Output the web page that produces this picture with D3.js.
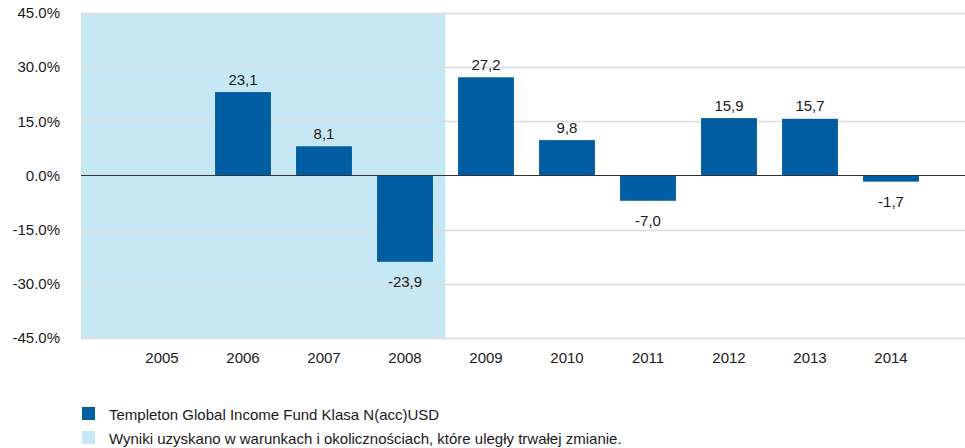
<!DOCTYPE html>
<html>
<head>
<meta charset="utf-8">
<script src="https://cdn.jsdelivr.net/npm/d3@7"></script>
<style>
  body { margin: 0; background: #fff; }
  svg text { font-family: "Liberation Sans", Arial, sans-serif; fill: #1a1a1a; }
</style>
</head>
<body>
<div id="chart"></div>
<script>
const years = ['2005', '2006', '2007', '2008', '2009', '2010', '2011', '2012', '2013', '2014'];
const returns = [null, 23.1, 8.1, -23.9, 27.2, 9.8, -7.0, 15.9, 15.7, -1.7];
const shadedYears = ['2005', '2006', '2007', '2008'];
const yTicks = [45, 30, 15, 0, -15, -30, -45];
const seriesName = 'Templeton Global Income Fund Klasa N(acc)USD';
const shadedNote = 'Wyniki uzyskano w warunkach i okolicznościach, które uległy trwałej zmianie.';

const W = 965, H = 448;
const plot = { left: 81, right: 965, top: 13, bottom: 338 };
const barColor = '#005da2';
const shadeColor = '#c5e8f4';
const fontSize = '15px';

const fmt = d => d3.format('.1f')(d).replace('\u2212', '-');

const svg = d3.select('#chart').append('svg')
    .attr('width', W).attr('height', H);

const x = d3.scaleBand()
    .domain(years)
    .range([121.5, 931.5])
    .paddingInner(0.31)
    .paddingOuter(0.155);

const y = d3.scaleLinear()
    .domain([-45, 45])
    .range([plot.bottom, plot.top]);

// tło okresu sprzed zmiany
const shadeEnd = x(shadedYears[shadedYears.length - 1]) + x.bandwidth() + x.step() * x.paddingInner() / 2;
svg.append('rect')
    .attr('x', plot.left).attr('y', plot.top)
    .attr('width', shadeEnd - plot.left)
    .attr('height', plot.bottom - plot.top)
    .attr('fill', shadeColor);

// siatka
svg.append('g')
    .selectAll('line')
    .data(yTicks.filter(d => d !== 0))
    .join('line')
    .attr('x1', plot.left).attr('x2', plot.right)
    .attr('y1', d => Math.round(y(d)) + 0.5).attr('y2', d => Math.round(y(d)) + 0.5)
    .attr('stroke', '#dcdcdc')
    .attr('stroke-width', 1.5);

// oś Y
const yAxis = svg.append('g')
    .attr('transform', `translate(${plot.left},0)`)
    .call(d3.axisLeft(y).tickValues(yTicks).tickSize(0).tickPadding(21)
        .tickFormat(d => fmt(d) + '%'));
yAxis.select('.domain').remove();
yAxis.selectAll('text')
    .style('font-size', fontSize)
    .style('font-family', null)
    .attr('fill', '#1a1a1a');

// słupki
const data = years.map((yr, i) => ({ year: yr, value: returns[i] })).filter(d => d.value !== null);

svg.append('g')
    .selectAll('rect')
    .data(data)
    .join('rect')
    .attr('x', d => x(d.year))
    .attr('width', x.bandwidth())
    .attr('y', d => y(Math.max(0, d.value)))
    .attr('height', d => Math.abs(y(d.value) - y(0)))
    .attr('fill', barColor);

// linia zera
svg.append('line')
    .attr('x1', plot.left).attr('x2', plot.right)
    .attr('y1', y(0)).attr('y2', y(0))
    .attr('stroke', '#333')
    .attr('stroke-width', 1.2);

// etykiety wartości
svg.append('g')
    .selectAll('text')
    .data(data)
    .join('text')
    .attr('x', d => x(d.year) + x.bandwidth() / 2)
    .attr('y', d => d.value >= 0 ? y(d.value) - 7.5 : y(d.value) + 25)
    .attr('text-anchor', 'middle')
    .style('font-size', fontSize)
    .text(d => fmt(d.value).replace('.', ','));

// oś X
const xAxis = svg.append('g')
    .attr('transform', `translate(0,${plot.bottom})`)
    .call(d3.axisBottom(x).tickSize(0).tickPadding(14));
xAxis.select('.domain').remove();
xAxis.selectAll('text')
    .style('font-size', fontSize)
    .style('font-family', null)
    .attr('fill', '#1a1a1a');

// legenda
const legendItems = [
    { label: seriesName, color: barColor },
    { label: shadedNote, color: shadeColor }
];
const legend = svg.append('g')
    .selectAll('g')
    .data(legendItems)
    .join('g')
    .attr('transform', (d, i) => `translate(82,${407 + i * 24})`);
legend.append('rect')
    .attr('width', 13).attr('height', 13)
    .attr('fill', d => d.color);
legend.append('text')
    .attr('x', 27).attr('y', 12.5)
    .style('font-size', fontSize)
    .text(d => d.label);
</script>
</body>
</html>
